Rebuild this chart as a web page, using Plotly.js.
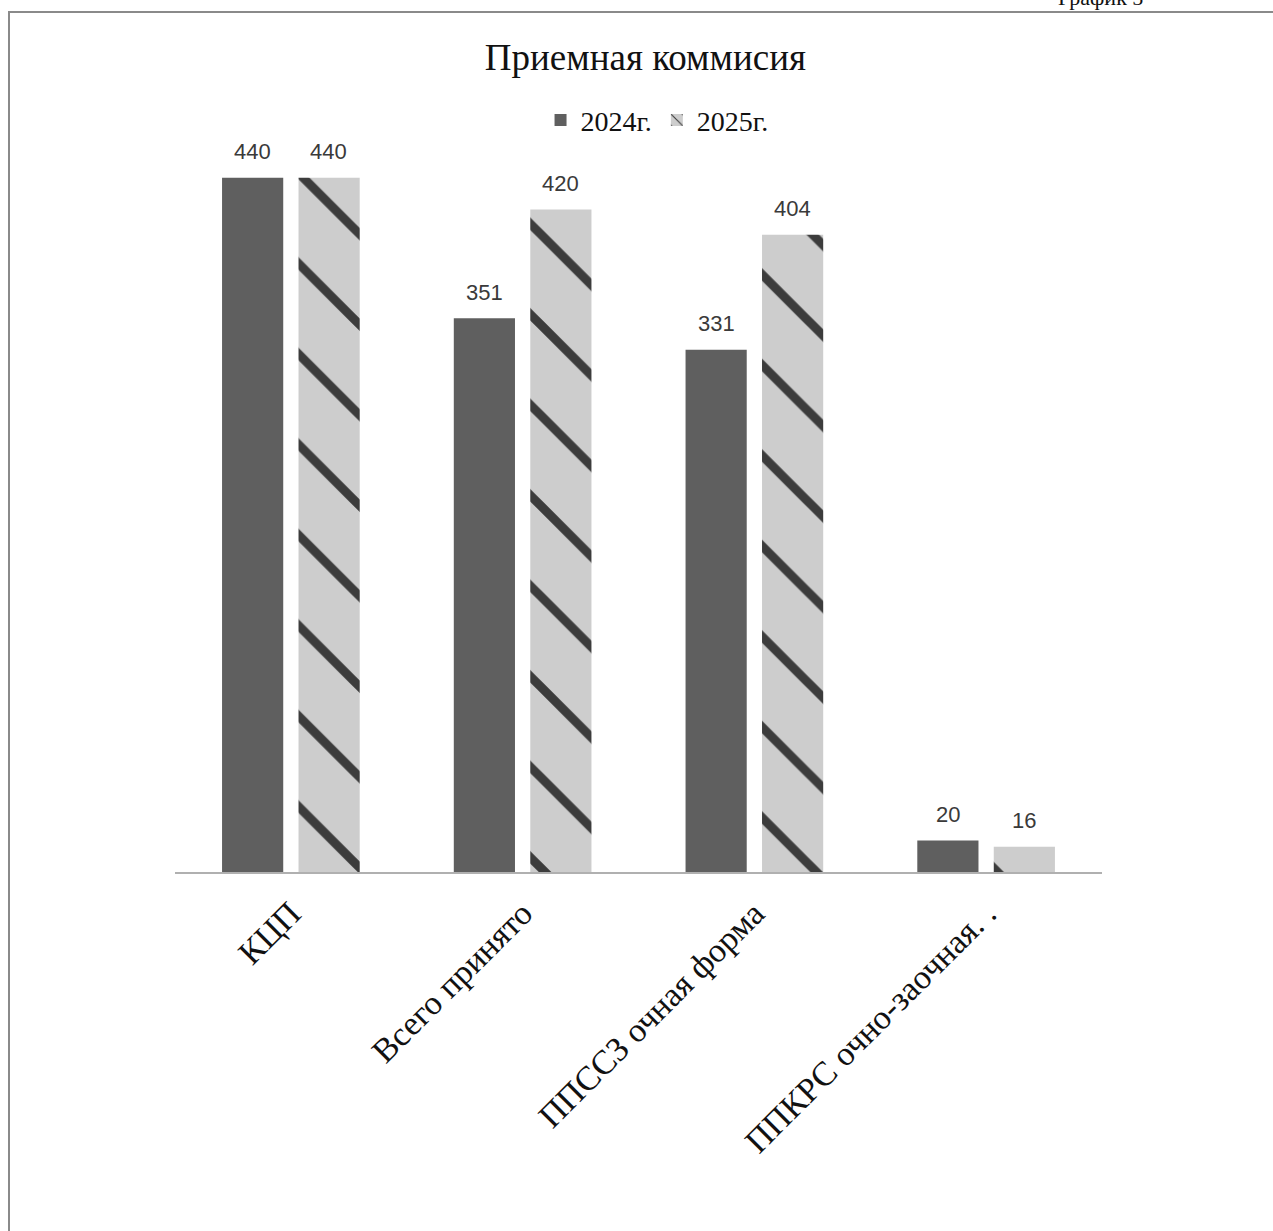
<!DOCTYPE html>
<html>
<head>
<meta charset="utf-8">
<script src="https://cdn.plot.ly/plotly-3.0.1.min.js"></script>
<style>
  body { margin: 0; padding: 0; background: #fff; }
  #wrap { position: relative; width: 1273px; height: 1231px; overflow: hidden; }
  #frame { position: absolute; left: 8px; top: 11px; width: 1400px; height: 1400px;
           border-left: 2px solid #8a8a8a; border-top: 2px solid #8a8a8a; pointer-events: none; }
  #chart { position: absolute; left: 0; top: 0; width: 1273px; height: 1231px; }
</style>
</head>
<body>
<div id="wrap">
  <div id="chart"></div>
  <div id="frame"></div>
</div>
<script>
const categories = ["КЦП", "Всего принято", "ППССЗ очная форма", "ППКРС очно-заочная. ."];
const seriesNames = ["2024г.", "2025г."];
const values2024 = [440, 351, 331, 20];
const values2025 = [440, 420, 404, 16];

const serif = "Liberation Serif, Times New Roman, serif";
const sans = "Liberation Sans, Arial, sans-serif";

const traces = [
  {
    type: "bar", name: seriesNames[0], x: categories, y: values2024,
    marker: { color: "#5f5f5f", line: { width: 0 } },
    hoverinfo: "none"
  },
  {
    type: "bar", name: seriesNames[1], x: categories, y: values2025,
    marker: {
      color: "#cfcfcf", line: { width: 0 },
      pattern: { shape: "\\", fgcolor: "#3c3c3c", bgcolor: "#cdcdcd", size: 64, solidity: 0.14 }
    },
    hoverinfo: "none"
  }
];

const annotations = [];
[values2024, values2025].forEach((vals, si) => {
  vals.forEach((v, i) => {
    annotations.push({
      x: categories[i], y: v, xref: "x", yref: "y",
      text: String(v), showarrow: false,
      xshift: si === 0 ? -38 : 38, yshift: 26, yanchor: "middle",
      font: { family: sans, size: 22, color: "#3a3a3a" }
    });
  });
});
annotations.push({
  xref: "paper", yref: "paper", x: 0.998, y: 1.195, xanchor: "center", yanchor: "middle",
  text: "График 5", showarrow: false,
  font: { family: serif, size: 22, color: "#111" }
});

const layout = {
  width: 1273, height: 1231,
  margin: { l: 175, r: 171, t: 140, b: 359 },
  paper_bgcolor: "rgba(0,0,0,0)", plot_bgcolor: "rgba(0,0,0,0)",
  title: {
    text: "Приемная коммисия", x: 0.507, xanchor: "center",
    y: 0.954, yanchor: "middle", yref: "container",
    font: { family: serif, size: 37, color: "#111" }
  },
  barmode: "group", bargap: 0.34, bargroupgap: 0.2,
  showlegend: true,
  legend: {
    orientation: "h", x: 0.52, xanchor: "center", y: 1.027, yanchor: "middle",
    font: { family: serif, size: 28, color: "#111" }, itemwidth: 30,
    traceorder: "normal"
  },
  xaxis: {
    type: "category", showline: true, linecolor: "#b0b0b0", linewidth: 2,
    ticks: "outside", ticklen: 6, tickcolor: "rgba(0,0,0,0)", tickangle: -45,
    showgrid: false, zeroline: false,
    tickfont: { family: serif, size: 34, color: "#111" }
  },
  yaxis: {
    range: [0, 464], visible: false, showgrid: false, zeroline: false
  },
  annotations: annotations
};

Plotly.newPlot("chart", traces, layout, { displayModeBar: false, staticPlot: true });
</script>
</body>
</html>
